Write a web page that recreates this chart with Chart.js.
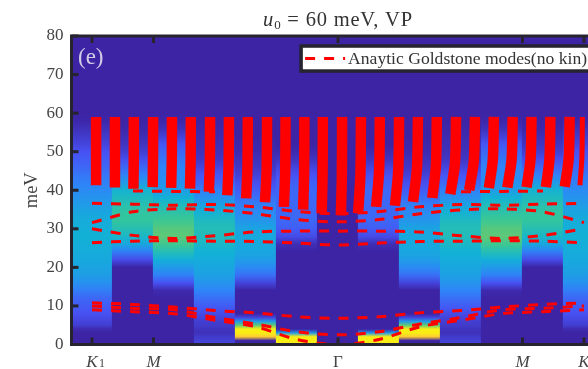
<!DOCTYPE html>
<html>
<head>
<meta charset="utf-8">
<title>Goldstone modes</title>
<script src="https://cdn.jsdelivr.net/npm/chart.js@4"></script>
<style>
  html, body { margin: 0; padding: 0; background: #fff; overflow: hidden; }
  #wrap { width: 588px; height: 369px; overflow: hidden; }
  canvas { display: block; filter: blur(0.4px); }
</style>
</head>
<body>
<div id="wrap"><canvas id="chart" width="640" height="369"></canvas></div>
<script>
const titleText = ['u', '0', ' = 60 meV, VP'];
const panelLabel = '(e)';
const legendText = 'Anaytic Goldstone modes(no kin)';
const yTicks = [0, 10, 20, 30, 40, 50, 60, 70, 80];
const xTickValues = [0, 1.5, 6, 10.5, 12];
const xTickLabels = ['K', 'M', '\u0393', 'M', 'K'];

// heat map: one column per k point, value (0..1) at each energy in energyGrid
const energyGrid = [0, 1, 2, 3, 4, 5, 6, 7, 8, 10, 12, 14, 16, 18, 20, 22, 24, 26, 28, 30, 32, 34, 36, 38, 40, 42, 44, 46, 48, 50, 52, 54, 56, 58, 60, 80];
const col0 = [0, 0, 0, 0, .02, .08, .1, .12, .14, .17, .2, .26, .32, .36, .38, .4, .41, .42, .43, .42, .41, .39, .36, .33, .3, .27, .24, .2, .17, .14, .1, .07, .04, .01, 0, 0];
const col1 = [0, 0, 0, 0, 0, 0, 0, 0, 0, 0, 0, 0, 0, 0, 0, .12, .26, .39, .46, .51, .55, .55, .52, .48, .44, .35, .27, .2, .13, .08, .05, .03, .01, 0, 0, 0];
const col2 = [0, 0, 0, 0, 0, 0, 0, 0, 0, 0, 0, .02, .14, .27, .35, .42, .5, .58, .62, .61, .58, .54, .49, .43, .36, .32, .3, .28, .24, .2, .15, .09, .04, .01, 0, 0];
const col3 = [.12, .09, .07, .04, .05, .07, .08, .1, .12, .17, .22, .28, .33, .37, .39, .41, .43, .46, .49, .5, .48, .44, .38, .32, .27, .2, .15, .1, .06, .04, .03, .02, .01, 0, 0, 0];
const col4 = [0, 0, .88, 1, 1, .62, .35, .1, 0, 0, 0, 0, .1, .22, .3, .36, .39, .4, .4, .38, .34, .3, .27, .22, .17, .13, .09, .06, .04, .02, .01, 0, 0, 0, 0, 0];
const col5 = [1, 1, 1, .35, 0, 0, 0, 0, 0, 0, 0, 0, 0, 0, 0, 0, 0, .03, .12, .17, .2, .2, .2, .2, .2, .18, .14, .1, .05, .02, 0, 0, 0, 0, 0, 0];
const col6 = [0, 0, 0, 0, 0, 0, 0, 0, 0, 0, 0, 0, 0, 0, 0, 0, 0, 0, 0, 0, 0, 0, 0, 0, 0, 0, 0, 0, 0, 0, 0, 0, 0, 0, 0, 0];
const heatColumns = [col0, col1, col2, col3, col4, col5, col6, col5, col4, col3, col2, col1, col0];
const colormap = ['#3c24a4', '#4752f4', '#2d87f7', '#12b1d6', '#37c897', '#abc739', '#fec338', '#f9ee14'];

// low energy modes at k = 0..12
const modeK = [0, 1, 2, 3, 4, 5, 6, 7, 8, 9, 10, 11, 12];
const modeU1 = [36.6, 36.4, 36.1, 36.3, 35.7, 34.5, 33.9, 34.5, 35.7, 36.3, 36.1, 36.4, 36.6];
const modeU2 = [31.6, 34.4, 35.2, 34.9, 33.9, 32.4, 31.8, 32.4, 33.9, 34.9, 35.2, 34.4, 31.6];
const modeU3 = [30, 28.3, 27.5, 28.2, 29.2, 29.4, 29.4, 29.4, 29.2, 28.2, 27.5, 28.3, 30];
const modeU4 = [26.4, 26.8, 26.9, 26.8, 26.7, 26.3, 25.8, 26.3, 26.7, 26.8, 26.9, 26.8, 26.4];
const modeEdge = [null, 39.8, 39.7, 39.6, null, null, null, null, null, 39.6, 39.7, 39.8, null];
const modeL1 = [10.8, 10.4, 9.7, 8.8, 8.2, 7.2, 6.8, 7.2, 8.2, 8.8, 9.7, 10.4, 10.8];
const modeL2 = [10, 9.4, 9, 7, 5.3, 3.3, 2.5, 3.3, 5.3, 7, 9, 9.4, 10];
const modeL3 = [9, 8.5, 8, 6.3, 4.6, 1.3, 0, 1.3, 4.6, 6.3, 8, 8.5, 9];
const lowModes = [modeU1, modeU2, modeU3, modeU4, modeEdge, modeL1, modeL2, modeL3];

// upper continuum, dense dashes that pile up into stripes
const stripeTopE = 59;
const stripeTopK = [.1, .56, 1.02, 1.49, 1.95, 2.41, 2.88, 3.34, 3.8, 4.27, 4.72, 5.18, 5.63, 6.1, 6.56, 7.02, 7.49, 7.95, 8.41, 8.88, 9.34, 9.8, 10.26, 10.72, 11.18, 11.65, 11.96];
const stripeBottomK = [.1, .56, 1.01, 1.48, 1.93, 2.39, 2.85, 3.3, 3.76, 4.22, 4.68, 5.15, 5.6, 6.07, 6.49, 6.93, 7.39, 7.83, 8.3, 8.74, 9.2, 9.68, 10.13, 10.6, 11.07, 11.53, 11.9];
const stripeBottomE = [41.3, 40.7, 40.4, 40.8, 40.6, 40.4, 39.6, 38.7, 37.9, 36.9, 35.7, 35, 34, 33.5, 34, 35.7, 36, 37, 38, 39, 40, 40.6, 40.7, 40.8, 40.8, 40.9, 41.3];

const RED = '#ff0000';
const FRAME = '#26242e';
const TEXT = '#444444';
const SERIF = '"Liberation Serif", serif';

function heatColor(v) {
  const pos = Math.min(v, 0.9999) * (colormap.length - 1);
  const i = Math.floor(pos);
  const f = pos - i;
  const a = parseInt(colormap[i].slice(1), 16);
  const b = parseInt(colormap[i + 1].slice(1), 16);
  const mix = shift => Math.round(((a >> shift) & 255) * (1 - f) + ((b >> shift) & 255) * f);
  return 'rgb(' + mix(16) + ',' + mix(8) + ',' + mix(0) + ')';
}

function columnGradient(context) {
  const chart = context.chart;
  const col = heatColumns[context.dataIndex];
  if (!chart.chartArea || !col) return colormap[0];
  const y = chart.scales.y;
  const g = chart.ctx.createLinearGradient(0, y.getPixelForValue(0), 0, y.getPixelForValue(80));
  energyGrid.forEach((e, i) => g.addColorStop(e / 80, heatColor(col[i])));
  return g;
}

const datasets = [{
  type: 'bar',
  order: 10,
  data: heatColumns.map((c, i) => ({ x: i, y: [0, 80] })),
  backgroundColor: columnGradient,
  borderWidth: 0,
  inflateAmount: 0.6,
  barPercentage: 1,
  categoryPercentage: 1,
}];

lowModes.forEach(mode => {
  datasets.push({
    type: 'line',
    data: modeK.map((k, i) => ({ x: k, y: mode[i] })),
    borderColor: RED,
    borderWidth: 3,
    borderDash: [10, 9],
    borderCapStyle: 'butt',
    tension: 0.3,
    pointRadius: 0,
    spanGaps: false,
  });
});

stripeTopK.forEach((k, i) => {
  const last = i === stripeTopK.length - 1;
  const bottomK = stripeBottomK[i];
  const bottomE = stripeBottomE[i];
  datasets.push({
    type: 'line',
    data: [
      { x: k, y: stripeTopE },
      { x: k - (k - bottomK) * 0.2, y: bottomE + (stripeTopE - bottomE) * 0.4 },
      { x: bottomK, y: bottomE },
    ],
    borderColor: RED,
    borderWidth: last ? 5 : 10.5,
    borderCapStyle: 'butt',
    tension: 0.3,
    pointRadius: 0,
  });
});

// frame, inward ticks, panel label, legend box and title
const overlay = {
  id: 'overlay',
  afterDatasetsDraw(chart) {
    const c = chart.ctx;
    const a = chart.chartArea;
    const xs = chart.scales.x;
    const ys = chart.scales.y;
    c.save();
    c.strokeStyle = FRAME;
    c.lineWidth = 3;
    c.strokeRect(a.left, a.top, a.right - a.left, a.bottom - a.top);
    xTickValues.forEach(v => {
      const px = xs.getPixelForValue(v);
      c.beginPath();
      c.moveTo(px, a.top); c.lineTo(px, a.top + 7);
      c.moveTo(px, a.bottom); c.lineTo(px, a.bottom - 7);
      c.stroke();
    });
    yTicks.forEach(v => {
      const py = ys.getPixelForValue(v);
      c.beginPath();
      c.moveTo(a.left, py); c.lineTo(a.left + 7, py);
      c.stroke();
    });

    c.fillStyle = '#d0cce8';
    c.font = '23px ' + SERIF;
    c.textAlign = 'left';
    c.textBaseline = 'alphabetic';
    c.fillText(panelLabel, 78, 64);

    // subscript of the K1 tick label, the K itself comes from the axis
    c.fillStyle = TEXT;
    c.font = '12px ' + SERIF;
    c.fillText('1', xs.getPixelForValue(0) + 7, 367);

    // legend
    const boxX = xs.getPixelForValue(5.1);
    const boxY = ys.getPixelForValue(77.4);
    c.fillStyle = '#ffffff';
    c.fillRect(boxX, boxY, 320, 25);
    c.strokeStyle = FRAME;
    c.lineWidth = 3.5;
    c.strokeRect(boxX, boxY, 320, 25);
    c.strokeStyle = RED;
    c.lineWidth = 3;
    c.setLineDash([10, 9]);
    c.beginPath();
    c.moveTo(boxX + 4, boxY + 12.5);
    c.lineTo(boxX + 44, boxY + 12.5);
    c.stroke();
    c.setLineDash([]);
    c.fillStyle = '#333333';
    c.font = '17.6px ' + SERIF;
    c.textBaseline = 'middle';
    c.fillText(legendText, boxX + 47, boxY + 13);

    // title, centred on the plot
    const cx = xs.getPixelForValue(6);
    c.textBaseline = 'alphabetic';
    c.fillStyle = '#333333';
    c.letterSpacing = '0.8px';
    c.font = 'italic 20.5px ' + SERIF;
    const w0 = c.measureText(titleText[0]).width;
    c.font = '13px ' + SERIF;
    const w1 = c.measureText(titleText[1]).width;
    c.font = '20.5px ' + SERIF;
    const w2 = c.measureText(titleText[2]).width;
    let tx = cx - (w0 + w1 + w2) / 2;
    c.font = 'italic 20.5px ' + SERIF;
    c.fillText(titleText[0], tx, 26);
    tx += w0;
    c.font = '13px ' + SERIF;
    c.fillText(titleText[1], tx, 29);
    tx += w1;
    c.font = '20.5px ' + SERIF;
    c.fillText(titleText[2], tx, 26);
    c.restore();
  },
};

new Chart(document.getElementById('chart'), {
  data: { datasets: datasets },
  plugins: [overlay],
  options: {
    responsive: false,
    animation: false,
    layout: { padding: { top: 36, left: 0, right: 35.5, bottom: 0 } },
    plugins: {
      legend: { display: false },
      title: { display: false },
      tooltip: { enabled: false },
    },
    scales: {
      x: {
        type: 'linear',
        min: -0.5,
        max: 12.5,
        offset: false,
        grid: { display: false },
        border: { display: false },
        afterBuildTicks: scale => { scale.ticks = xTickValues.map(v => ({ value: v })); },
        afterFit: scale => { scale.height = 24.5; },
        ticks: {
          autoSkip: false,
          maxRotation: 0,
          padding: 0,
          color: TEXT,
          font: ctx => ({ family: SERIF, size: 17, style: ctx.index === 2 ? 'normal' : 'italic' }),
          callback: (v, i) => xTickLabels[i],
        },
      },
      y: {
        min: 0,
        max: 80,
        grid: { display: false },
        border: { display: false },
        afterBuildTicks: scale => { scale.ticks = yTicks.map(v => ({ value: v })); },
        afterFit: scale => { scale.width = 71.5; },
        ticks: { padding: 0, color: TEXT, font: { family: SERIF, size: 17 } },
        title: {
          display: true,
          text: 'meV',
          color: TEXT,
          font: { family: SERIF, size: 18.5 },
          padding: { top: 21, bottom: 0 },
        },
      },
    },
  },
});
</script>
</body>
</html>
